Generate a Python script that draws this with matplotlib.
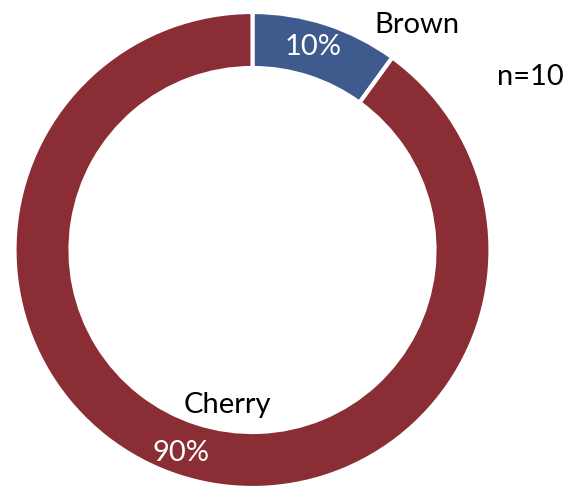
import matplotlib.pyplot as plt

# Données
categories = ["Brown", "Cherry"]
valeurs = [1, 9]
couleurs = ["#3F5A8C", "#8A2D34"]
n_total = sum(valeurs)

plt.rcParams['font.family'] = ['Lato', 'DejaVu Sans']

fig = plt.figure(figsize=(5.7, 4.88), dpi=100)
ax = fig.add_axes([0, 0, 1, 1])

# Anneau
ax.pie(valeurs, colors=couleurs, startangle=90, counterclock=False,
       center=(252.5, 238), radius=238,
       wedgeprops=dict(width=56, edgecolor='white', linewidth=3))

# pie() impose ses propres limites : on les remet après
ax.set_xlim(0, 570)
ax.set_ylim(0, 488)
ax.set_aspect('equal')
ax.axis('off')

pct = [100 * v / n_total for v in valeurs]

# Étiquettes
style = dict(fontsize=21, ha='center', va='center')
ax.text(417, 463, categories[0], color='black', **style)
ax.text(313, 441, f"{pct[0]:.0f}%", color='white', **style)
ax.text(227, 83, categories[1], color='black', **style)
ax.text(181, 35, f"{pct[1]:.0f}%", color='white', **style)
ax.text(530, 411, f"n={n_total}", color='black', **style)

plt.savefig("out.png", dpi=100)
